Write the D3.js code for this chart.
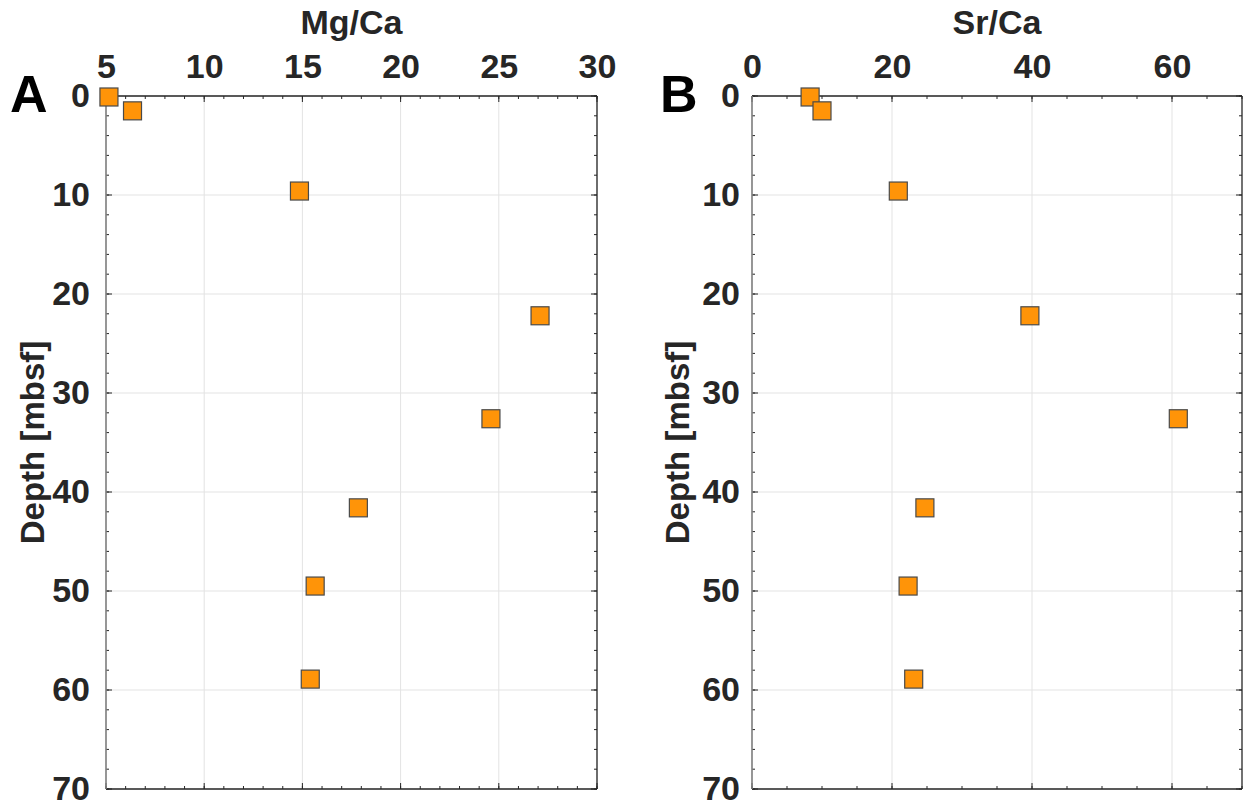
<!DOCTYPE html>
<html>
<head>
<meta charset="utf-8">
<script src="https://cdn.jsdelivr.net/npm/d3@7"></script>
<style>
  body { margin: 0; background: #fff; }
  text { font-family: "Liberation Sans", Arial, sans-serif; font-weight: bold; fill: #262626; }
</style>
</head>
<body>
<div id="chart"></div>
<script>
// data
var depth = [0.1, 1.5, 9.6, 22.2, 32.6, 41.6, 49.5, 58.9];
var mgCa = [5.15, 6.35, 14.85, 27.1, 24.6, 17.85, 15.65, 15.4];
var srCa = [8.3, 10.0, 20.9, 39.7, 60.9, 24.7, 22.3, 23.1];

var depthTicks = [0, 10, 20, 30, 40, 50, 60, 70];
var mgTicks = [5, 10, 15, 20, 25, 30];
var srTicks = [0, 20, 40, 60];

var svgWidth = 1243;
var svgHeight = 807;

var svg = d3.select("#chart")
    .append("svg")
    .attr("width", svgWidth)
    .attr("height", svgHeight);

var yScale = d3.scaleLinear()
    .domain([0, 70])
    .range([96, 789]);

// one panel: values, x domain, pixel range, ticks
function drawPanel(opts) {
    var x = d3.scaleLinear().domain(opts.domain).range(opts.range);
    var g = svg.append("g");
    var left = opts.range[0], right = opts.range[1];
    var top = yScale.range()[0], bottom = yScale.range()[1];

    // grid
    g.selectAll(".vgrid").data(opts.ticks).enter().append("line")
        .attr("x1", d => x(d)).attr("x2", d => x(d))
        .attr("y1", top).attr("y2", bottom)
        .attr("stroke", "#e3e3e3").attr("stroke-width", 1);
    g.selectAll(".hgrid").data(depthTicks).enter().append("line")
        .attr("x1", left).attr("x2", right)
        .attr("y1", d => yScale(d)).attr("y2", d => yScale(d))
        .attr("stroke", "#e3e3e3").attr("stroke-width", 1);

    // minor ticks
    var xMinor = d3.range(opts.domain[0], opts.domain[1] + 0.001, opts.minor);
    var yMinor = d3.range(0, 70.001, 2);
    [top, bottom].forEach(function(yy, i) {
        var dir = i == 0 ? 1 : -1;
        g.selectAll(null).data(xMinor).enter().append("line")
            .attr("x1", d => x(d)).attr("x2", d => x(d))
            .attr("y1", yy).attr("y2", yy + dir * 3)
            .attr("stroke", "#262626");
        g.selectAll(null).data(opts.ticks).enter().append("line")
            .attr("x1", d => x(d)).attr("x2", d => x(d))
            .attr("y1", yy).attr("y2", yy + dir * 6)
            .attr("stroke", "#262626");
    });
    [left, right].forEach(function(xx, i) {
        var dir = i == 0 ? 1 : -1;
        g.selectAll(null).data(yMinor).enter().append("line")
            .attr("x1", xx).attr("x2", xx + dir * 3)
            .attr("y1", d => yScale(d)).attr("y2", d => yScale(d))
            .attr("stroke", "#262626");
        g.selectAll(null).data(depthTicks).enter().append("line")
            .attr("x1", xx).attr("x2", xx + dir * 6)
            .attr("y1", d => yScale(d)).attr("y2", d => yScale(d))
            .attr("stroke", "#262626");
    });

    // axes (labels only, box drawn below)
    var topAxis = d3.axisTop(x).tickValues(opts.ticks).tickSize(0).tickPadding(18);
    var leftAxis = d3.axisLeft(yScale).tickValues(depthTicks).tickSize(0).tickPadding(opts.yPad);

    var gx = g.append("g").attr("transform", `translate(0, ${top})`).call(topAxis);
    var gy = g.append("g").attr("transform", `translate(${left}, 0)`).call(leftAxis);
    [gx, gy].forEach(function(a) {
        a.select(".domain").remove();
        a.selectAll("text")
            .style("font-size", "34px")
            .style("font-family", "Liberation Sans, Arial, sans-serif")
            .style("font-weight", "bold")
            .attr("fill", "#262626");
    });

    // box
    g.append("line").attr("x1", left).attr("x2", right).attr("y1", top).attr("y2", top)
        .attr("stroke", "#262626").attr("stroke-width", 1.3);
    g.append("line").attr("x1", left).attr("x2", right).attr("y1", bottom).attr("y2", bottom)
        .attr("stroke", "#262626").attr("stroke-width", 1.3);
    g.append("line").attr("x1", right).attr("x2", right).attr("y1", top).attr("y2", bottom)
        .attr("stroke", "#262626").attr("stroke-width", 1.3);
    g.append("line").attr("x1", left).attr("x2", left).attr("y1", top).attr("y2", bottom)
        .attr("stroke", "#808080").attr("stroke-width", 1.6);

    // points
    var size = 18;
    g.selectAll("rect.pt").data(opts.values).enter().append("rect")
        .attr("class", "pt")
        .attr("x", d => x(d) - size / 2)
        .attr("y", (d, i) => yScale(depth[i]) - size / 2)
        .attr("width", size).attr("height", size)
        .attr("fill", "#ff9408")
        .attr("stroke", "#4a4a4a")
        .attr("stroke-width", 1.2);

    // titles
    g.append("text")
        .attr("x", (left + right) / 2).attr("y", 34)
        .attr("text-anchor", "middle")
        .style("font-size", "34px")
        .text(opts.title);

    g.append("text")
        .attr("transform", `translate(${opts.yLabelX}, ${(top + bottom) / 2}) rotate(-90)`)
        .attr("text-anchor", "middle")
        .style("font-size", "33px")
        .text("Depth [mbsf]");

    g.append("text")
        .attr("x", opts.letterX).attr("y", 112)
        .style("font-size", "52px")
        .style("fill", "#000")
        .text(opts.letter);
}

drawPanel({
    values: mgCa, domain: [5, 30], range: [106, 597], ticks: mgTicks, minor: 1,
    title: "Mg/Ca", letter: "A", letterX: 10, yLabelX: 44, yPad: 16
});

drawPanel({
    values: srCa, domain: [0, 70], range: [752, 1242], ticks: srTicks, minor: 5,
    title: "Sr/Ca", letter: "B", letterX: 660, yLabelX: 689, yPad: 12
});
</script>
</body>
</html>
